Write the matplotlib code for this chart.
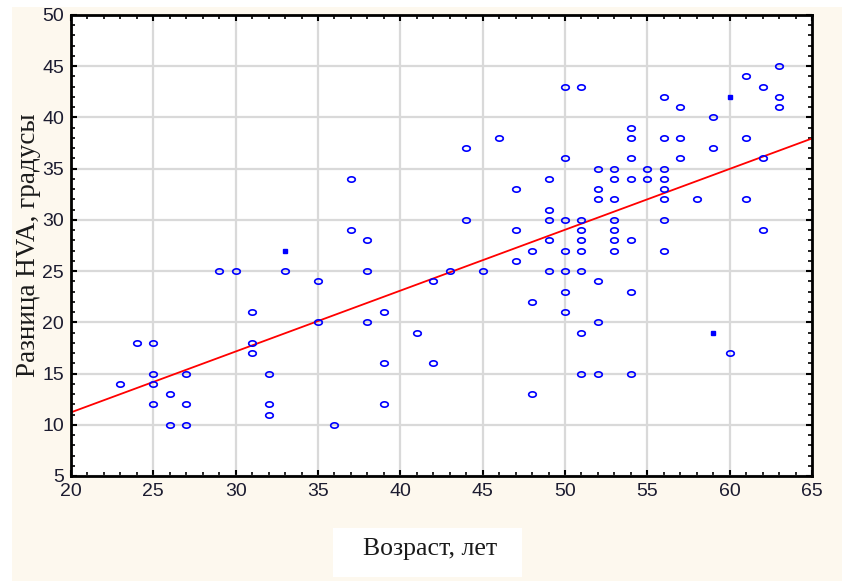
"""
Scatter of HVA difference vs age with linear fit
"""

import numpy as np
import matplotlib.pyplot as plt
from matplotlib.path import Path
from matplotlib.ticker import MultipleLocator

# age (years), HVA difference (degrees)
age = [23, 24, 25, 25, 25, 25, 26, 26, 27, 27, 27, 29, 30, 31, 31, 31, 32, 32, 32, 33,
       35, 35, 36, 37, 37, 38, 38, 38, 39, 39, 39, 41, 42, 42, 43, 44, 44, 45, 46,
       47, 47, 47, 48, 48, 48,
       49, 49, 49, 49, 49, 50, 50, 50, 50, 50, 50, 50,
       51, 51, 51, 51, 51, 51, 51, 51, 52, 52, 52, 52, 52, 52,
       53, 53, 53, 53, 53, 53, 53, 54, 54, 54, 54, 54, 54, 54, 55, 55,
       56, 56, 56, 56, 56, 56, 56, 56, 57, 57, 57, 58, 59, 59, 60,
       61, 61, 61, 62, 62, 62, 63, 63, 63]
hva = [14, 18, 18, 15, 14, 12, 13, 10, 15, 12, 10, 25, 25, 21, 18, 17, 15, 12, 11, 25,
       24, 20, 10, 34, 29, 28, 25, 20, 21, 16, 12, 19, 24, 16, 25, 37, 30, 25, 38,
       33, 29, 26, 27, 22, 13,
       34, 31, 30, 28, 25, 43, 36, 30, 27, 25, 23, 21,
       43, 30, 29, 28, 27, 25, 19, 15, 35, 33, 32, 24, 20, 15,
       35, 34, 32, 30, 29, 28, 27, 39, 38, 36, 34, 28, 23, 15, 35, 34,
       42, 38, 35, 34, 33, 32, 30, 27, 41, 38, 36, 32, 40, 37, 17,
       44, 38, 32, 43, 36, 29, 45, 42, 41]

# points drawn as small filled squares
age_sq = [33, 59, 60]
hva_sq = [27, 19, 42]

x_all = np.array(age + age_sq, dtype=float)
y_all = np.array(hva + hva_sq, dtype=float)
k, b = np.polyfit(x_all, y_all, 1)

# small flattened ring marker
t = np.linspace(0, 2 * np.pi, 25)
ring = Path(np.column_stack([np.cos(t), 0.7 * np.sin(t)]))

tick_font = ['Liberation Sans Narrow', 'Liberation Sans']
W, H = 842, 581

fig = plt.figure(figsize=(W / 100, H / 100), dpi=100)
fig.patch.set_facecolor('white')
# cream panel behind the chart
fig.add_artist(plt.Rectangle((12 / W, 0), 1, 1 - 7 / H, transform=fig.transFigure,
                             facecolor='#fdf8ee', edgecolor='none', zorder=-10))
# white box under the x label
fig.add_artist(plt.Rectangle((333 / W, 1 - 577 / H), 189 / W, 49 / H,
                             transform=fig.transFigure,
                             facecolor='white', edgecolor='none', zorder=-5))

ax = fig.add_axes([71 / W, 1 - 476 / H, (812 - 71) / W, (476 - 15) / H])
ax.set_facecolor('white')

ax.set_xlim(20, 65)
ax.set_ylim(5, 50)
ax.xaxis.set_major_locator(MultipleLocator(5))
ax.yaxis.set_major_locator(MultipleLocator(5))
ax.xaxis.set_minor_locator(MultipleLocator(1))
ax.yaxis.set_minor_locator(MultipleLocator(1))
ax.grid(True, which='major', color='#d9d9d9', linewidth=1.6, zorder=0)
ax.set_axisbelow(True)

ax.tick_params(which='both', direction='in', top=True, right=True,
               colors='black', labelcolor='#1c1c30', labelsize=14)
ax.tick_params(which='major', length=4, width=1.5, pad=5)
ax.tick_params(which='minor', length=3, width=1.2)
for lab in ax.get_xticklabels() + ax.get_yticklabels():
    lab.set_family(tick_font)
for s in ax.spines.values():
    s.set_linewidth(2)

xs = np.array([20, 65])
ax.plot(xs, k * xs + b, color='red', linewidth=1.3, zorder=2)

ax.plot(age, hva, linestyle='none', marker=ring, markersize=5.5,
        markerfacecolor='none', markeredgecolor='blue', markeredgewidth=1.2, zorder=3)
ax.plot(age_sq, hva_sq, linestyle='none', marker='s', markersize=3,
        color='blue', zorder=3)

ax.set_ylabel('Разница HVA, градусы', family='Liberation Serif', fontsize=19.5,
              color='#1a1a1a', labelpad=1)

fig.text(430 / W, 1 - 549 / H, 'Возраст, лет', family='Liberation Serif',
         fontsize=18.5, color='#1a1a1a', ha='center', va='center')

fig.savefig('out.png', dpi=100, facecolor=fig.get_facecolor())
